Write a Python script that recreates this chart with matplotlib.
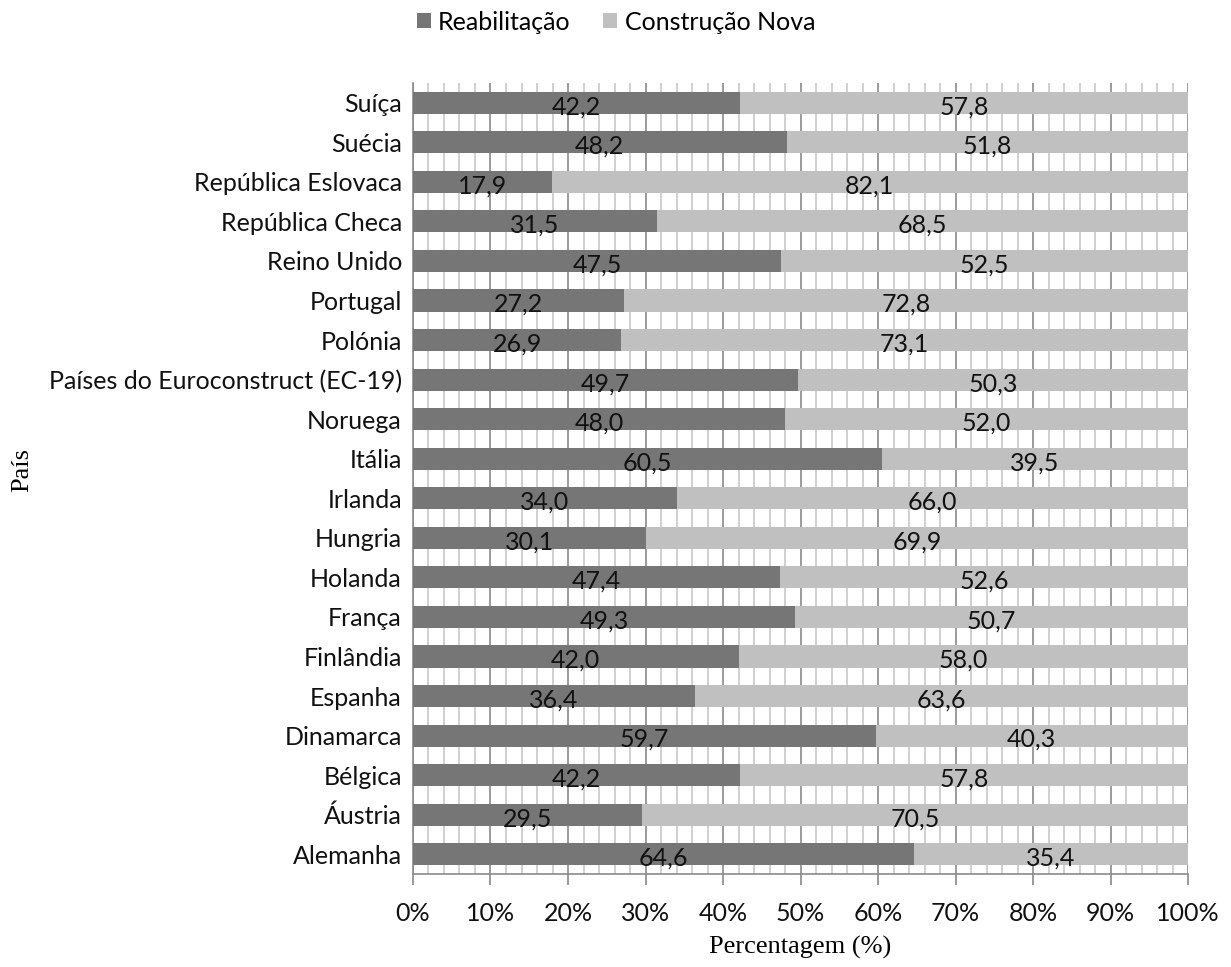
import matplotlib.pyplot as plt
import numpy as np

paises = ['Suíça', 'Suécia', 'República Eslovaca', 'República Checa', 'Reino Unido',
          'Portugal', 'Polónia', 'Países do Euroconstruct (EC-19)', 'Noruega', 'Itália',
          'Irlanda', 'Hungria', 'Holanda', 'França', 'Finlândia', 'Espanha',
          'Dinamarca', 'Bélgica', 'Áustria', 'Alemanha']
reabilitacao = [42.2, 48.2, 17.9, 31.5, 47.5, 27.2, 26.9, 49.7, 48.0, 60.5,
                34.0, 30.1, 47.4, 49.3, 42.0, 36.4, 59.7, 42.2, 29.5, 64.6]
construcao = [57.8, 51.8, 82.1, 68.5, 52.5, 72.8, 73.1, 50.3, 52.0, 39.5,
              66.0, 69.9, 52.6, 50.7, 58.0, 63.6, 40.3, 57.8, 70.5, 35.4]

c_reab = '#767676'
c_const = '#c0c0c0'
sans = 'Lato'
serif = 'Liberation Serif'
fs = 18

fig = plt.figure(figsize=(12.31, 9.67), dpi=100)
ax = fig.add_axes([413/1231, 1-874/967, (1188-413)/1231, (874-83)/967])

y = np.arange(len(paises))
b1 = ax.barh(y, reabilitacao, height=0.56, color=c_reab, zorder=3, label='Reabilitação')
b2 = ax.barh(y, construcao, left=reabilitacao, height=0.56, color=c_const, zorder=3,
             label='Construção Nova')

for i in range(len(paises)):
    ax.text(reabilitacao[i] / 2, y[i] + 0.1, f'{reabilitacao[i]:.1f}'.replace('.', ','),
            ha='center', va='center', fontsize=fs, family=sans, color='#111111', zorder=4)
    ax.text(reabilitacao[i] + construcao[i] / 2, y[i] + 0.1,
            f'{construcao[i]:.1f}'.replace('.', ','),
            ha='center', va='center', fontsize=fs, family=sans, color='#111111', zorder=4)

ax.set_xlim(0, 100)
ax.set_ylim(len(paises) - 0.5, -0.5)
ax.set_xticks(np.arange(0, 101, 10))
ax.set_xticklabels([f'{v}%' for v in range(0, 101, 10)], family=sans, fontsize=fs)
ax.set_xticks(np.arange(0, 101, 2), minor=True)
ax.set_yticks(y)
ax.set_yticklabels(paises, family=sans, fontsize=fs, color='#111111')

ax.grid(True, axis='x', which='major', color='#8a8a8a', lw=1.2, zorder=1)
ax.grid(True, axis='x', which='minor', color='#c8c8c8', lw=1.2, zorder=0)
ax.tick_params(axis='x', which='major', length=8, color='#8a8a8a', width=1.2, pad=12,
               labelcolor='#111111')
ax.tick_params(axis='x', which='minor', length=0)
ax.tick_params(axis='y', length=0, pad=8)
for s in ['top', 'right']:
    ax.spines[s].set_visible(False)
for s in ['left', 'bottom']:
    ax.spines[s].set_color('#8a8a8a')
    ax.spines[s].set_linewidth(1.2)

ax.set_xlabel('Percentagem (%)', family=serif, fontsize=19, labelpad=8)
fig.text(22/1231, 1-470/967, 'País', rotation=90, family=serif, fontsize=19,
         ha='center', va='center')

leg = fig.legend(handles=[b1, b2], loc='center', bbox_to_anchor=(616/1231, 1-22/967),
                 ncol=2, frameon=False, prop={'family': sans, 'size': fs},
                 handlelength=0.55, handleheight=0.55, handletextpad=0.3, columnspacing=1.3)

fig.savefig('out.png', dpi=100)
